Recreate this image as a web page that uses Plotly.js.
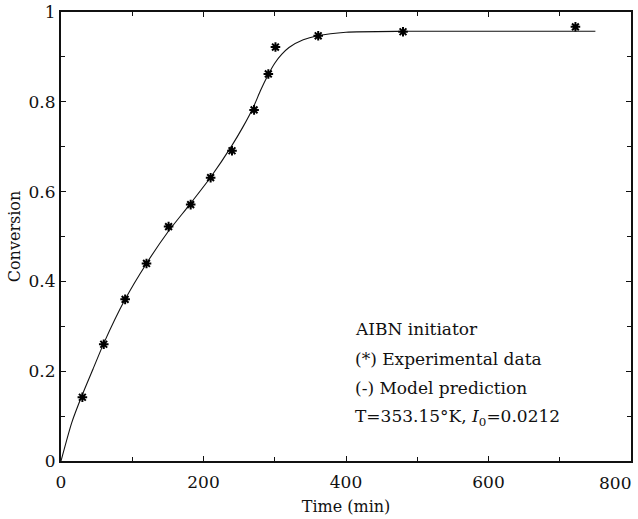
<!DOCTYPE html>
<html>
<head>
<meta charset="utf-8">
<script src="https://cdn.plot.ly/plotly-3.0.1.min.js"></script>
<style>html,body{margin:0;padding:0;background:#fff;}#chart{width:638px;height:519px;}</style>
</head>
<body>
<div id="chart"></div>
<script>
// Experimental data (*)
var expTime = [30, 60, 90, 120, 151, 182, 210, 240, 271, 291, 301, 361, 480, 722];
var expConv = [0.142, 0.26, 0.36, 0.44, 0.522, 0.571, 0.631, 0.691, 0.782, 0.862, 0.922, 0.947, 0.956, 0.967];
// Model prediction (-)
var modelTime = [0, 15, 30, 45, 60, 90, 120, 150, 180, 210, 240, 255, 270, 280, 290, 300, 310, 320, 340, 360, 400, 480, 600, 750];
var modelConv = [0, 0.085, 0.148, 0.205, 0.262, 0.36, 0.44, 0.51, 0.57, 0.632, 0.703, 0.743, 0.788, 0.825, 0.858, 0.886, 0.906, 0.921, 0.938, 0.947, 0.955, 0.957, 0.957, 0.957];
var labelLines = ["AIBN initiator", "(*) Experimental data", "(-) Model prediction", "T=353.15°K, <i>I</i><sub>0</sub>=0.0212"];
var xTickVals = [0, 200, 400, 600, 800];
var xTickText = ["0", "200", "400", "600", "800"];
var yTickVals = [0, 0.2, 0.4, 0.6, 0.8, 1];
var yTickText = ["0", "0.2", "0.4", "0.6", "0.8", "1"];

var font = "'DejaVu Serif', 'Liberation Serif', serif";
var traces = [
  {x: modelTime, y: modelConv, mode: "lines", type: "scatter",
   line: {color: "#111", width: 1.1, shape: "spline", smoothing: 0.6}, hoverinfo: "skip"},
  {x: expTime, y: expConv, mode: "markers", type: "scatter",
   marker: {symbol: "asterisk-open", size: 8, color: "#000", line: {color: "#000", width: 2}}}
];
var ys = [0.295, 0.228, 0.163, 0.097];
var annotations = labelLines.map(function(t, i){
  return {text: t, xref: "paper", yref: "paper", x: 0.512, y: ys[i], xanchor: "left", yanchor: "middle",
          showarrow: false, font: {family: font, size: 17, color: "#111"}};
});
// last x tick label is drawn right-aligned at the axis end (as in the reference) so it stays inside the page
var lastIdx = xTickText.length - 1;
annotations.push({text: xTickText[lastIdx], xref: "x", x: xTickVals[lastIdx], yref: "paper", y: 0,
  xanchor: "right", yanchor: "middle", yshift: -22, xshift: 2, showarrow: false,
  font: {family: font, size: 17, color: "#111"}});
var axisTickText = xTickText.map(function(t, i){ return i === lastIdx ? "" : t; });

var layout = {
  width: 638, height: 519,
  margin: {l: 61, r: 7, t: 12, b: 58},
  paper_bgcolor: "#fff", plot_bgcolor: "#fff",
  showlegend: false,
  font: {family: font, size: 17, color: "#111"},
  xaxis: {range: [0, 800], tickvals: xTickVals, ticktext: axisTickText, ticks: "inside", ticklen: 5, tickwidth: 1, tickcolor: "#111",
          showline: true, linewidth: 2, linecolor: "#111", mirror: "ticks", showgrid: false, zeroline: false,
          minor: {dtick: 100, ticks: "inside", ticklen: 4, tickcolor: "#111"},
          title: {text: "Time (min)", font: {family: font, size: 16}, standoff: 9},
          tickfont: {family: font, size: 17}, ticklabelstandoff: 5},
  yaxis: {range: [0, 1], tickvals: yTickVals, ticktext: yTickText, ticks: "inside", ticklen: 5, tickwidth: 1, tickcolor: "#111",
          showline: true, linewidth: 2, linecolor: "#111", mirror: "ticks", showgrid: false, zeroline: false,
          minor: {dtick: 0.1, ticks: "inside", ticklen: 4, tickcolor: "#111"},
          title: {text: "Conversion", font: {family: font, size: 16}, standoff: 4},
          tickfont: {family: font, size: 17}, ticklabeloverflow: "allow"},
  annotations: annotations
};
Plotly.newPlot("chart", traces, layout, {displayModeBar: false, staticPlot: true});
</script>
</body>
</html>
